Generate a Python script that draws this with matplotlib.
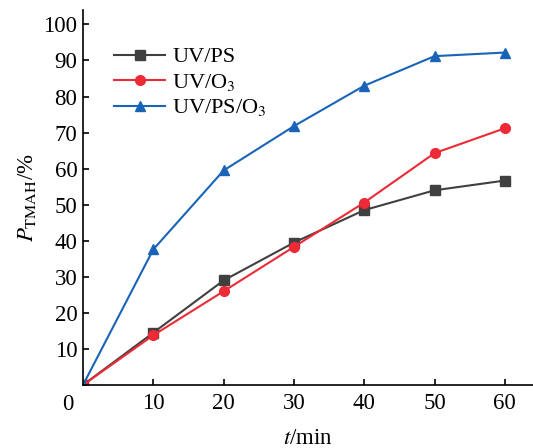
import numpy as np
import matplotlib.pyplot as plt

plt.rcParams['font.family'] = ['Liberation Serif', 'DejaVu Serif']
plt.rcParams['mathtext.fontset'] = 'stix'

t = [0, 10, 20, 30, 40, 50, 60]
uv_ps = [0, 14.5, 29.0, 39.5, 48.5, 54.0, 56.7]
uv_o3 = [0, 13.8, 26.0, 38.3, 50.6, 64.3, 71.2]
uv_ps_o3 = [0, 37.6, 59.5, 71.8, 83.0, 91.2, 92.2]

fig = plt.figure(figsize=(5.33, 4.48), dpi=100)
ax = fig.add_axes([0.1557, 0.1406, 0.8443, 0.8371])

ax.plot(t, uv_ps, '-s', color='#404040', lw=1.5, ms=6.5, label='UV/PS')
ax.plot(t, uv_o3, '-o', color='#ee2a36', lw=1.5, ms=7, label=r'UV/O$_3$')
ax.plot(t, uv_ps_o3, '-^', color='#1a64b8', lw=1.5, ms=7.5, label=r'UV/PS/O$_3$')

ax.set_xlim(0, 64)
ax.set_ylim(0, 104)
ax.set_xticks([10, 20, 30, 40, 50, 60])
ax.set_yticks(np.arange(10, 101, 10))
ax.spines['top'].set_visible(False)
ax.spines['right'].set_visible(False)
for s in ['left', 'bottom']:
    ax.spines[s].set_linewidth(1.2)
ax.tick_params(direction='in', length=4, width=1.2, labelsize=16.5, pad=4)
ax.tick_params(axis='x', pad=6)
ax.text(-1.3, -2.5, '0', fontsize=16.5, ha='right', va='top')

ax.set_xlabel(r'$t$/min', fontsize=16.5, labelpad=10)
ax.set_ylabel(r'$P_{\mathrm{TMAH}}$/%', fontsize=16.5, labelpad=4)

ax.legend(loc='upper left', bbox_to_anchor=(0.025, 0.955), frameon=False,
          fontsize=16, handlelength=2.3, handletextpad=0.3, labelspacing=0.2)

fig.savefig('out.png', dpi=100)
